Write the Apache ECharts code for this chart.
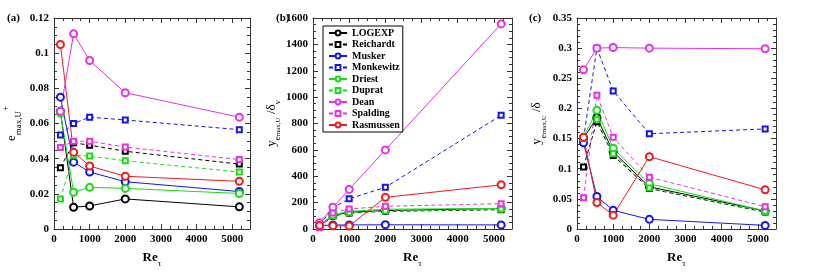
<!DOCTYPE html>
<html><head><meta charset="utf-8">
<script src="https://cdn.jsdelivr.net/npm/echarts@6/dist/echarts.min.js"></script>
<style>html,body{margin:0;padding:0;background:#fff}#c{width:830px;height:273px}</style>
</head><body><div id="c"></div>
<script>
const re = [180, 550, 1000, 2000, 5200];
const modelNames = ['LOGEXP','Reichardt','Musker','Monkewitz','Driest','Duprat','Dean','Spalding','Rasmussen'];
const xTicks = [0, 1000, 2000, 3000, 4000, 5000];
// panel (a): e_max,U+
const a_LOGEXP    = [0.067, 0.0124, 0.0131, 0.0171, 0.0126];
const a_Reichardt = [0.0349, 0.049, 0.0477, 0.0442, 0.0369];
const a_Musker    = [0.075, 0.038, 0.0324, 0.0269, 0.0213];
const a_Monkewitz = [0.0535, 0.060, 0.0636, 0.062, 0.0565];
const a_Driest    = [0.066, 0.0209, 0.0237, 0.0231, 0.0202];
const a_Duprat    = [0.0171, 0.042, 0.0415, 0.0388, 0.0324];
const a_Dean      = [0.067, 0.111, 0.0958, 0.0775, 0.0636];
const a_Spalding  = [0.0464, 0.0499, 0.0499, 0.0466, 0.0395];
const a_Rasmussen = [0.1049, 0.0437, 0.0358, 0.030, 0.0271];
// panel (b): y_e / delta_nu
const b_LOGEXP    = [27, 102, 128, 140, 156];
const b_Reichardt = [19, 98, 122, 134, 146];
const b_Musker    = [26, 30, 31, 32, 31];
const b_Monkewitz = [27, 162, 229, 316, 862];
const b_Driest    = [27, 108, 133, 150, 156];
const b_Duprat    = [27, 100, 125, 136, 151];
const b_Dean      = [47, 165, 300, 600, 1555];
const b_Spalding  = [9, 122, 152, 172, 192];
const b_Rasmussen = [27, 24, 23, 240, 335];
// panel (c): y_e / delta
const c_LOGEXP    = [0.150, 0.185, 0.128, 0.070, 0.030];
const c_Reichardt = [0.103, 0.178, 0.122, 0.067, 0.028];
const c_Musker    = [0.143, 0.054, 0.031, 0.016, 0.006];
const c_Monkewitz = [0.150, 0.300, 0.229, 0.158, 0.166];
const c_Driest    = [0.152, 0.197, 0.134, 0.075, 0.030];
const c_Duprat    = [0.150, 0.182, 0.125, 0.068, 0.029];
const c_Dean      = [0.264, 0.300, 0.301, 0.300, 0.299];
const c_Spalding  = [0.052, 0.222, 0.152, 0.086, 0.037];
const c_Rasmussen = [0.152, 0.044, 0.023, 0.120, 0.065];

const panelA = [a_LOGEXP,a_Reichardt,a_Musker,a_Monkewitz,a_Driest,a_Duprat,a_Dean,a_Spalding,a_Rasmussen];
const panelB = [b_LOGEXP,b_Reichardt,b_Musker,b_Monkewitz,b_Driest,b_Duprat,b_Dean,b_Spalding,b_Rasmussen];
const panelC = [c_LOGEXP,c_Reichardt,c_Musker,c_Monkewitz,c_Driest,c_Duprat,c_Dean,c_Spalding,c_Rasmussen];

const colors = ['#000000','#000000','#1515ee','#1515ee','#16dd16','#16dd16','#e830e8','#e830e8','#ee1c1c'];
const dashed = [false,true,false,true,false,true,false,true,false];

const FF = '"Liberation Serif","Times New Roman",serif';
const AX = '#333';

const grids = [
  {left:50, right:580, top:18, bottom:35},
  {left:313, right:318, top:18, bottom:35},
  {left:577, right:54, top:18, bottom:35}
];
const yCfg = [
  {max:0.12, interval:0.02, minor:4, gap:31, name:'{m|e}{s|max,U}{p|+}'},
  {max:1600, interval:200, minor:4, gap:29, name:'{m|y}{s|e}{ss|max,U}{m| /δ}{s|ν}'},
  {max:0.35, interval:0.05, minor:5, gap:29, name:'{m|y}{s|e}{ss|max,U}{m| /δ}'}
];
const richY = {
  m:{fontFamily:FF, fontSize:13, lineHeight:22, color:'#000', verticalAlign:'middle'},
  s:{fontFamily:FF, fontSize:9, lineHeight:9, color:'#000', verticalAlign:'bottom'},
  ss:{fontFamily:FF, fontSize:7, lineHeight:4, color:'#000', verticalAlign:'bottom'},
  p:{fontFamily:FF, fontSize:9, lineHeight:9, color:'#000', verticalAlign:'top'}
};
const xAxes = [], yAxes = [];
grids.forEach((g, i) => {
  ['bottom','top'].forEach(pos => {
    xAxes.push({
      type:'value', gridIndex:i, position:pos, min:0, max:5500, interval:1000,
      axisLine:{show:true, onZero:false, lineStyle:{color:AX, width:1}},
      axisTick:{show:true, inside:true, length:5, lineStyle:{color:AX}},
      minorTick:{show:true, splitNumber:4, length:3, lineStyle:{color:AX}},
      splitLine:{show:false},
      axisLabel:{show:pos==='bottom', showMaxLabel:false, fontFamily:FF, fontWeight:'bold', fontSize:11, color:'#000', margin:5,
        formatter: v => xTicks.indexOf(v) >= 0 ? String(v) : ''},
      name: pos==='bottom' ? '{m|Re}{s|τ}' : '', nameLocation:'middle', nameGap:19,
      nameTextStyle:{rich:{
        m:{fontFamily:FF, fontSize:13, fontWeight:'bold', lineHeight:20, color:'#000', verticalAlign:'middle'},
        s:{fontFamily:FF, fontSize:9, lineHeight:9, color:'#000', verticalAlign:'bottom'}}}
    });
  });
  ['left','right'].forEach(pos => {
    const c = yCfg[i];
    yAxes.push({
      type:'value', gridIndex:i, position:pos, min:0, max:c.max, interval:c.interval,
      axisLine:{show:true, onZero:false, lineStyle:{color:AX, width:1}},
      axisTick:{show:true, inside:true, length:5, lineStyle:{color:AX}},
      minorTick:{show:true, splitNumber:c.minor, length:3, lineStyle:{color:AX}},
      splitLine:{show:false},
      axisLabel:{show:pos==='left', fontFamily:FF, fontWeight:'bold', fontSize:11, color:'#000', margin:5,
        formatter: v => String(+(+v).toFixed(4))},
      name: pos==='left' ? c.name : '', nameLocation:'middle', nameGap:c.gap, nameRotate:90,
      nameTextStyle:{rich:richY}
    });
  });
});

const series = [];
[panelA, panelB, panelC].forEach((panel, gi) => {
  panel.forEach((vals, k) => {
    series.push({
      name: modelNames[k], type:'line', xAxisIndex: gi*2, yAxisIndex: gi*2,
      data: re.map((x, j) => [x, vals[j]]),
      symbol: dashed[k] ? 'emptyRect' : 'emptyCircle',
      symbolSize: dashed[k] ? 5 : 7,
      lineStyle:{color:colors[k], width:1, type: dashed[k] ? [4,3] : 'solid'},
      itemStyle:{color:colors[k], borderWidth:1},
      emphasis:{disabled:true},
      animation:false, z: 2
    });
  });
});

const chart = echarts.init(document.getElementById('c'), null, {renderer:'canvas'});
chart.setOption({
  animation:false,
  backgroundColor:'#fff',
  grid: grids,
  xAxis: xAxes,
  yAxis: yAxes,
  legend:{
    data: modelNames, orient:'vertical', left:323, top:26,
    itemWidth:18, itemHeight:6, itemGap:1.5, padding:[2,3,2,5],
    borderColor:'#000', borderWidth:1, backgroundColor:'#fff',
    textStyle:{fontFamily:FF, fontWeight:'bold', fontSize:10, lineHeight:10, color:'#000'},
    selectedMode:false
  },
  graphic:[
    {type:'text', left:7, top:13, style:{text:'(a)', font:'bold 11px "Liberation Serif", serif', fill:'#000'}},
    {type:'text', left:276, top:13, style:{text:'(b)', font:'bold 11px "Liberation Serif", serif', fill:'#000'}},
    {type:'text', left:529, top:13, style:{text:'(c)', font:'bold 11px "Liberation Serif", serif', fill:'#000'}}
  ],
  series: series
});
</script></body></html>
